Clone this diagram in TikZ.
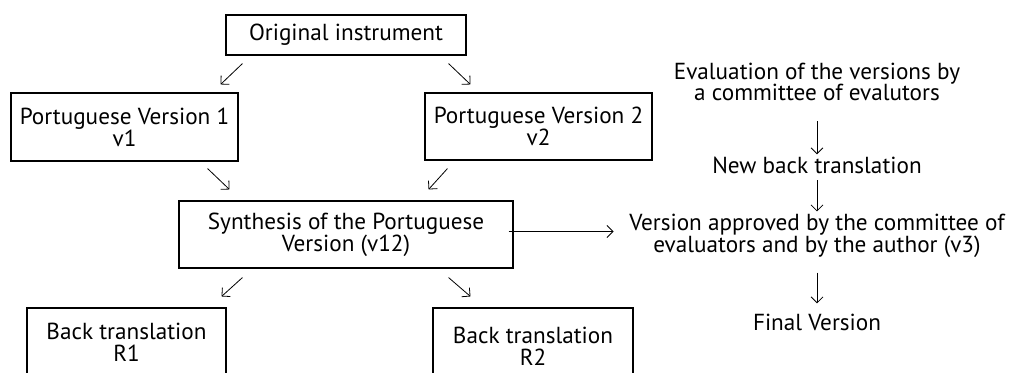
\documentclass[tikz,border=0pt]{standalone}
\usepackage{fontspec}
\setmainfont{PT Sans}
\usetikzlibrary{positioning, arrows.meta}

\begin{document}
\begin{tikzpicture}[x=0.75pt, y=-0.75pt,
    font=\fontsize{17.4}{16.3}\selectfont,
    box/.style={draw, line width=0.8pt, align=center, inner sep=0pt},
    txt/.style={align=center, inner sep=0pt},
    arr/.style={-{Straight Barb[length=4.5pt, width=9pt]}, line width=0.6pt}]
    \useasboundingbox (0,0) rectangle (1009,372);
    \clip (0,0) rectangle (1009,372);

    % translation steps
    \node[box, minimum width=180pt, minimum height=30pt] (orig) at (346,35) {Original instrument};
    \node[box, minimum width=170.25pt, minimum height=51pt] (pv1) at (124.5,127) {Portuguese Version 1\\v1};
    \node[box, minimum width=170.25pt, minimum height=50.25pt] (pv2) at (538.5,126.5) {Portuguese Version 2\\v2};
    \node[box, minimum width=250.5pt, minimum height=50.25pt] (synth) at (346,234.5) {Synthesis of the Portuguese\\Version (v12)};
    \node[box, minimum width=149.25pt, minimum height=51pt] (bt1) at (126.5,342) {Back translation\\R1};
    \node[box, minimum width=150pt, minimum height=57pt] (bt2) at (533,346) {Back translation\\R2};

    % committee steps
    \node[txt] (eval) at (817,82) {Evaluation of the versions by\\a committee of evalutors};
    \node[txt] (newbt) at (817,165) {New back translation};
    \node[txt] (appr) at (817,236) {Version approved by the committee of\\evaluators and by the author (v3)};
    \node[txt] (final) at (817,322) {Final Version};

    \draw
    ([shift={(17,8)}]orig.south west) edge[arr] ([shift={(-18,-8)}]pv1.north east)
    ([shift={(-18,8)}]orig.south east) edge[arr] ([shift={(46,-8)}]pv2.north west)
    ([shift={(-31,7)}]pv1.south east) edge[arr] ([shift={(51,-11)}]synth.north west)
    ([shift={(23,8)}]pv2.south west) edge[arr] ([shift={(-85,-11)}]synth.north east)
    ([shift={(64,9)}]synth.south west) edge[arr] ([shift={(-5,-11)}]bt1.north east)
    ([shift={(-65,9)}]synth.south east) edge[arr] ([shift={(38,-11)}]bt2.north west)
    ([shift={(-5,-3)}]synth.east) edge[arr] ([shift={(100,-3)}]synth.east);

    \draw
    (eval) edge[arr, shorten <=15pt, shorten >=1.5pt] (newbt)
    (newbt) edge[arr, shorten <=5pt, shorten >=2pt] (appr)
    (appr) edge[arr, shorten <=11pt, shorten >=7.5pt] (final);
\end{tikzpicture}
\end{document}
